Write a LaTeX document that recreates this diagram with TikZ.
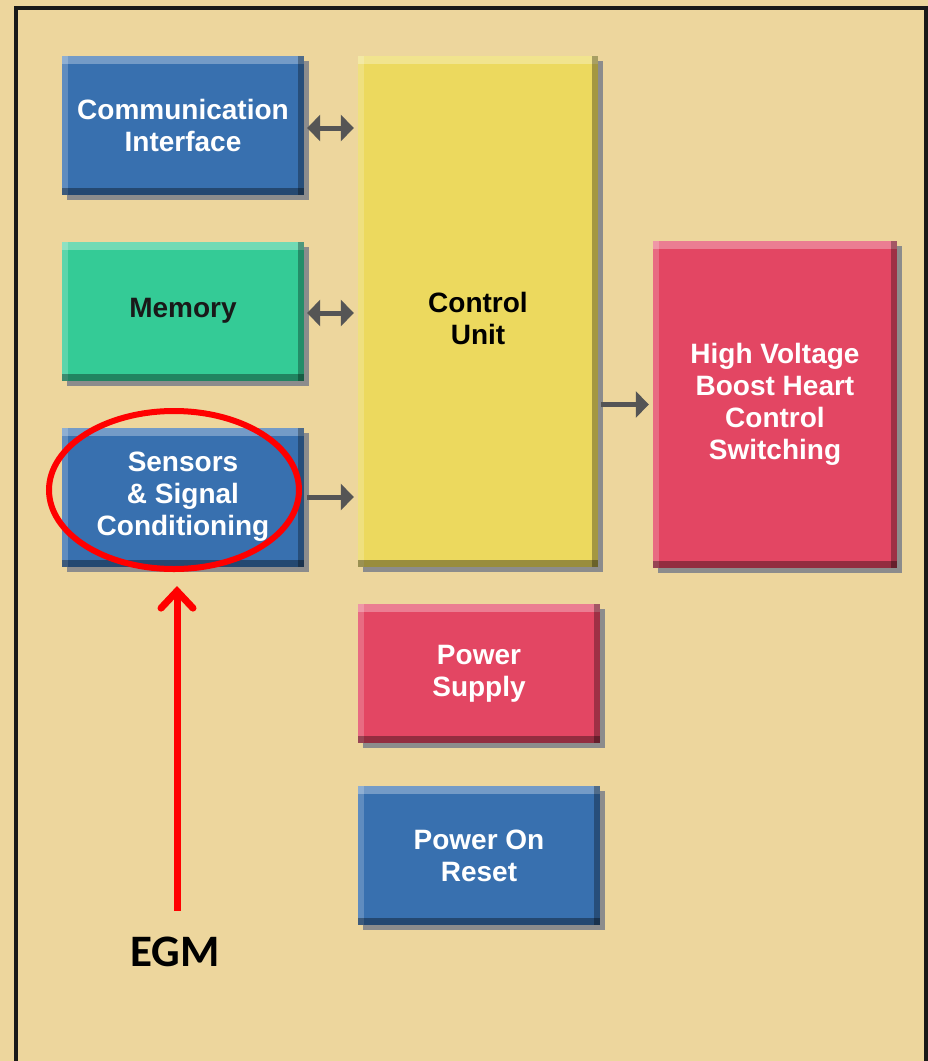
\documentclass[tikz,border=0pt]{standalone}
\usepackage{fontspec}
\setmainfont{Liberation Sans}
\newfontfamily\egmfont{Carlito}
\usetikzlibrary{arrows.meta,shapes.geometric,shadows}
\definecolor{paper}{HTML}{EDD69D}
\definecolor{cblue}{HTML}{3870AF}
\definecolor{cgreen}{HTML}{34CB96}
\definecolor{cyellow}{HTML}{ECD95E}
\definecolor{cred}{HTML}{E34663}
\definecolor{arrowgrey}{HTML}{555555}
\definecolor{egmred}{HTML}{FF0000}
\begin{document}
\begin{tikzpicture}[x=1pt,y=-1pt,
  box/.style={rectangle, inner sep=0pt, align=center,
    font=\fontsize{28}{32}\selectfont\bfseries, text=white,
    drop shadow={shadow xshift=5pt, shadow yshift=-5pt, fill=black!45, opacity=1},
    path picture={
      \fill[white, opacity=.3] (path picture bounding box.north west) rectangle ([yshift=-8pt]path picture bounding box.north east);
      \fill[white, opacity=.2] (path picture bounding box.north west) rectangle ([xshift=6pt]path picture bounding box.south west);
      \fill[black, opacity=.35] ([yshift=7pt]path picture bounding box.south west) rectangle (path picture bounding box.south east);
      \fill[black, opacity=.3] ([xshift=-6pt]path picture bounding box.north east) rectangle (path picture bounding box.south east);
    }},
  small/.style={box, minimum width=242pt, minimum height=139pt},
  link/.style={arrowgrey, line width=5pt, shorten <=3pt, shorten >=4pt,
    -{Triangle[length=13pt,width=26pt]}},
  dlink/.style={arrowgrey, line width=5pt, shorten <=3pt, shorten >=4pt,
    {Triangle[length=13pt,width=26pt]}-{Triangle[length=13pt,width=26pt]}},
]
\useasboundingbox (0,0) rectangle (928,1061);
\fill[paper] (0,0) rectangle (928,1061);
\draw[black!90, line width=4pt] (15.5,1070) -- (15.5,7.5) -- (925.5,7.5) -- (925.5,1070);

\node[small, fill=cblue] (comm) at (183,125.5) {Communication\\Interface};
\node[small, fill=cgreen, text=black!90] (mem) at (183,311) {Memory};
\node[small, fill=cblue] (sens) at (183,497) {Sensors\\\& Signal\\Conditioning};
\node[box, fill=cyellow, text=black, minimum width=240pt, minimum height=511pt,
  text depth=0pt] (ctrl) at (478,311.5) {\raisebox{4pt}{\begin{tabular}{@{}c@{}}Control\\Unit\end{tabular}}};
\node[box, fill=cred, minimum width=244pt, minimum height=327pt] (hv) at (775,404.5)
  {High Voltage\\Boost Heart\\Control\\Switching};
\node[small, fill=cred] (ps) at (479,673.5) {Power\\Supply};
\node[small, fill=cblue] (por) at (479,855.5) {Power On\\Reset};

\draw[dlink] ([yshift=-2.5pt]comm.east) -- ([yshift=-2.5pt]comm.east -| ctrl.west);
\draw[dlink] ([yshift=-2pt]mem.east) -- ([yshift=-2pt]mem.east -| ctrl.west);
\draw[link] (sens.east) -- (sens.east -| ctrl.west);
\draw[link] (hv.west -| ctrl.east) -- (hv.west);

\node[ellipse, draw=egmred, line width=6pt, minimum width=250pt, minimum height=158pt, inner sep=0pt] (circ) at (174,490) {};
\node[inner sep=0pt, font=\egmfont\bfseries\fontsize{45}{48}\selectfont] (egm) at (175,952) {EGM};
\draw[egmred, line width=7pt, shorten <=26pt, shorten >=14pt,
  -{Straight Barb[length=17pt,width=32pt,line cap=round]}] (egm.north -| 177,0) -- (circ.south -| 177,0);
\end{tikzpicture}
\end{document}
